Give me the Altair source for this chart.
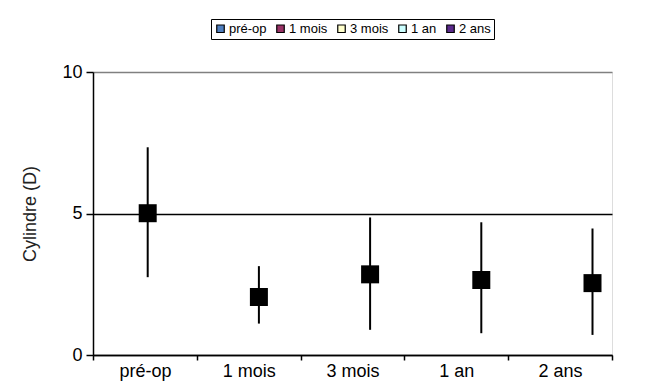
import altair as alt
import pandas as pd

categories = ["pré-op", "1 mois", "3 mois", "1 an", "2 ans"]
mean_vals = [5.01, 2.05, 2.85, 2.65, 2.54]
upper_vals = [7.34, 3.14, 4.86, 4.69, 4.47]
lower_vals = [2.75, 1.11, 0.89, 0.77, 0.71]
legend_colors = ["#4F7FBF", "#993366", "#FFFFCC", "#CCFFFF", "#5B2A8C"]

df = pd.DataFrame({
    "cat": categories,
    "mean": mean_vals,
    "upper": upper_vals,
    "lower": lower_vals,
})

FONT = "Liberation Sans"

x_enc = alt.X(
    "cat:N", sort=categories, title=None,
    scale=alt.Scale(paddingInner=0, paddingOuter=0),
    axis=alt.Axis(labelAngle=0, labelFontSize=18, labelFont=FONT, labelColor="black",
                  domainColor="black", domainWidth=1.5, tickColor="black", tickWidth=1.5,
                  tickSize=5, tickBand="extent", labelPadding=2, grid=False),
)
xoff_enc = alt.XOffset("cat:N", sort=categories, scale=alt.Scale(range=[51, 88]))
y_scale = alt.Scale(domain=[0, 10], nice=False)

base = alt.Chart(df).encode(x=x_enc, xOffset=xoff_enc)

rules = base.mark_rule(color="black", strokeWidth=2).encode(
    y=alt.Y("lower:Q", scale=y_scale,
            title="Cylindre (D)",
            axis=alt.Axis(values=[0, 5, 10], labelFontSize=18, labelFont=FONT, labelColor="black",
                          titleFont=FONT, titleFontSize=18, titleFontWeight="normal",
                          titleColor="#222222", titlePadding=22,
                          domainColor="black", domainWidth=1.5, tickColor="black",
                          tickWidth=1.5, tickSize=7, labelPadding=4,
                          grid=True, gridWidth=1.5,
                          gridColor={"condition": {"test": "datum.value == 10", "value": "#808080"},
                                     "value": "black"})),
    y2="upper:Q",
)

squares = base.mark_square(size=324, color="black", opacity=1).encode(
    y=alt.Y("mean:Q", scale=y_scale)
)

legend_layer = base.mark_square(size=324, opacity=0, stroke="black", strokeWidth=1).encode(
    y=alt.Y("mean:Q", scale=y_scale),
    color=alt.Color("cat:N", sort=categories,
                    scale=alt.Scale(domain=categories, range=legend_colors),
                    legend=alt.Legend(orient="none", legendX=118, legendY=-53,
                                      direction="horizontal", title=None,
                                      symbolType="square", symbolSize=56,
                                      symbolStrokeColor="black", symbolStrokeWidth=1.2,
                                      symbolOpacity=1, labelFontSize=13, labelFont=FONT,
                                      labelColor="black", labelOffset=2,
                                      columnPadding=7, strokeColor="black",
                                      padding=3)),
)

chart = alt.layer(legend_layer, rules, squares).properties(
    width=519, height=283,
    autosize=alt.AutoSizeParams(type="none"),
    padding={"left": 85, "top": 64, "right": 20, "bottom": 30},
).configure_view(stroke="#808080", strokeWidth=2).configure(background="white")

chart.save("out.html", embed_options={"renderer": "svg", "actions": False})
